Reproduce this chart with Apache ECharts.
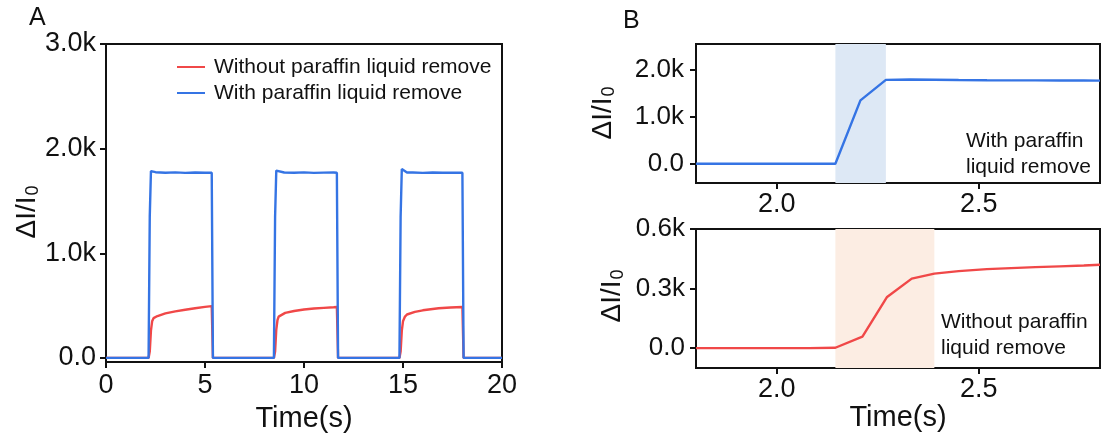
<!DOCTYPE html>
<html><head><meta charset="utf-8">
<script src="https://cdn.jsdelivr.net/npm/echarts@6/dist/echarts.min.js"></script>
<style>html,body{margin:0;padding:0;background:#fff}#c{width:1103px;height:438px}</style>
</head><body><div id="c"></div>
<script>
// ---------- DATA ----------
const seriesNames = ['Without paraffin liquid remove', 'With paraffin liquid remove'];
const aWithout = [[0,0],[2.15,0],[2.21,60],[2.27,260],[2.33,350],[2.4,380],[2.6,400],[3,425],[3.5,445],[4,460],[4.5,475],[5,488],[5.34,495],[5.40,0],
  [8.48,0],[8.54,60],[8.60,270],[8.66,360],[8.72,395],[9.05,430],[9.5,448],[10,463],[10.5,472],[11,478],[11.5,484],[11.66,486],[11.72,0],
  [14.82,0],[14.88,60],[14.94,260],[15.0,350],[15.1,395],[15.2,415],[15.6,440],[16,455],[16.3,463],[16.8,474],[17.4,482],[18.0,486],[18.06,0],[20,0]];
const aWith = [[0,0],[2.15,0],[2.21,1350],[2.27,1785],[2.33,1797],[2.5,1775],[3,1770],[3.5,1773],[4,1768],[4.5,1772],[5,1770],[5.34,1770],[5.40,0],
  [8.48,0],[8.54,1350],[8.60,1790],[8.7,1800],[9,1772],[9.5,1770],[10,1773],[10.5,1768],[11,1771],[11.5,1772],[11.66,1770],[11.72,0],
  [14.82,0],[14.88,1350],[14.94,1805],[15.0,1815],[15.2,1772],[15.5,1772],[16,1768],[16.5,1772],[17,1770],[17.5,1769],[18.0,1770],[18.06,0],[20,0]];
const bWith = [[1.80,0],[1.86,0],[1.93,0],[1.99,0],[2.05,0],[2.11,0],[2.145,0],[2.207,1350],[2.27,1785],[2.33,1795],[2.39,1790],[2.45,1782],[2.52,1778],[2.58,1776],[2.64,1775],[2.70,1774],[2.76,1772],[2.80,1770]];
const bWithout = [[1.80,0],[1.86,0],[1.93,0],[2.0,0],[2.08,0],[2.145,2],[2.212,58],[2.273,258],[2.334,350],[2.39,375],[2.45,388],[2.52,398],[2.58,403],[2.64,408],[2.70,412],[2.76,416],[2.80,420]];
const aYTicks = [0, 1000, 2000, 3000];
const aXTicks = [0, 5, 10, 15, 20];
const bTopYTicks = [0, 1000, 2000];
const bBotYTicks = [0, 300, 600];
const bXTicks = [2.0, 2.5];
const bWithShade = [2.145, 2.27];
const bWithoutShade = [2.145, 2.39];
const annotWith = ['With paraffin', 'liquid remove'];
const annotWithout = ['Without paraffin', 'liquid remove'];
const panelLabels = ['A', 'B'];
const xName = 'Time(s)';

// ---------- STYLE ----------
const FONT = '"Liberation Sans", Arial, sans-serif';
const BLUE = '#3574e4', RED = '#f04848', INK = '#111';
const kfmt = v => v === 0 ? '0.0' : (v / 1000).toFixed(1) + 'k';

function yAx(idx, min, max, ticks, fs, margin) {
  return { gridIndex: idx, type: 'value', min: min, max: max,
    axisLine: { show: true, onZero: false, lineStyle: { color: INK, width: 2 } },
    axisTick: { show: true, inside: false, length: 6, customValues: ticks, lineStyle: { color: INK, width: 2 } },
    axisLabel: { customValues: ticks, formatter: kfmt, fontSize: fs, color: INK, fontFamily: FONT, margin: margin },
    splitLine: { show: false } };
}
function xAx(idx, min, max, ticks, fs, margin, fmt, name, gap) {
  return { gridIndex: idx, type: 'value', min: min, max: max,
    axisLine: { show: true, onZero: false, lineStyle: { color: INK, width: 2 } },
    axisTick: { show: true, inside: false, length: 6, customValues: ticks, lineStyle: { color: INK, width: 2 } },
    axisLabel: { customValues: ticks, formatter: fmt, fontSize: fs, color: INK, fontFamily: FONT, margin: margin },
    splitLine: { show: false },
    name: name || '', nameLocation: 'middle', nameGap: gap || 36,
    nameTextStyle: { fontSize: 29, color: INK, fontFamily: FONT } };
}
const gridStyle = { show: true, borderColor: INK, borderWidth: 2, backgroundColor: 'transparent' };

function yName(x, y) {
  return { type: 'text', x: x, y: y, rotation: Math.PI / 2,
    style: { text: '{a|ΔI/I}{b|0}', align: 'center', verticalAlign: 'middle',
      rich: { a: { fontSize: 28, fontFamily: FONT, fill: INK },
              b: { fontSize: 18, fontFamily: FONT, fill: INK, padding: [12, 0, 0, 1] } } } };
}
function note(x, y, lines) {
  return { type: 'text', x: x, y: y,
    style: { text: lines.join('\n'), fontSize: 21, lineHeight: 26, fontFamily: FONT, fill: INK, align: 'left', verticalAlign: 'top' } };
}

const option = {
  animation: false,
  backgroundColor: '#fff',
  grid: [
    Object.assign({ left: 106, top: 44, width: 396, height: 319 }, gridStyle),
    Object.assign({ left: 696, top: 44, width: 404, height: 139 }, gridStyle),
    Object.assign({ left: 696, top: 229, width: 404, height: 139 }, gridStyle)
  ],
  xAxis: [
    xAx(0, 0, 20, aXTicks, 27, 10, v => String(v), xName, 36),
    xAx(1, 1.8, 2.8, bXTicks, 27, 8, v => v.toFixed(1)),
    xAx(2, 1.8, 2.8, bXTicks, 27, 8, v => v.toFixed(1), xName, 35)
  ],
  yAxis: [
    yAx(0, -40, 3000, aYTicks, 27, 10),
    yAx(1, -410, 2550, bTopYTicks, 26, 12),
    yAx(2, -100, 600, bBotYTicks, 26, 11)
  ],
  legend: {
    data: seriesNames, orient: 'vertical', left: 177, top: 55, padding: 0,
    icon: 'rect', itemWidth: 28, itemHeight: 2, itemGap: 2,
    textStyle: { fontSize: 21, lineHeight: 24, color: INK, fontFamily: FONT, padding: [0, 0, 0, 4] }
  },
  series: [
    { name: seriesNames[0], type: 'line', xAxisIndex: 0, yAxisIndex: 0, data: aWithout, symbol: 'none',
      color: RED, lineStyle: { color: RED, width: 2.4 } },
    { name: seriesNames[1], type: 'line', xAxisIndex: 0, yAxisIndex: 0, data: aWith, symbol: 'none',
      color: BLUE, lineStyle: { color: BLUE, width: 2.4 } },
    { name: 'B-with', type: 'line', xAxisIndex: 1, yAxisIndex: 1, data: bWith, symbol: 'none',
      color: BLUE, lineStyle: { color: BLUE, width: 2.4 },
      markArea: { silent: true, itemStyle: { color: '#dde8f5' }, data: [[{ xAxis: bWithShade[0] }, { xAxis: bWithShade[1] }]] } },
    { name: 'B-without', type: 'line', xAxisIndex: 2, yAxisIndex: 2, data: bWithout, symbol: 'none',
      color: RED, lineStyle: { color: RED, width: 2.4 },
      markArea: { silent: true, itemStyle: { color: '#fcede3' }, data: [[{ xAxis: bWithoutShade[0] }, { xAxis: bWithoutShade[1] }]] } }
  ],
  graphic: [
    { type: 'text', x: 29, y: 6, style: { text: panelLabels[0], fontSize: 25, fontFamily: FONT, fill: INK } },
    { type: 'text', x: 623, y: 9, style: { text: panelLabels[1], fontSize: 25, fontFamily: FONT, fill: INK } },
    yName(27, 212), yName(603, 113), yName(612, 296),
    note(966, 128, annotWith),
    note(941, 309, annotWithout)
  ]
};
echarts.init(document.getElementById('c')).setOption(option);
</script></body></html>
